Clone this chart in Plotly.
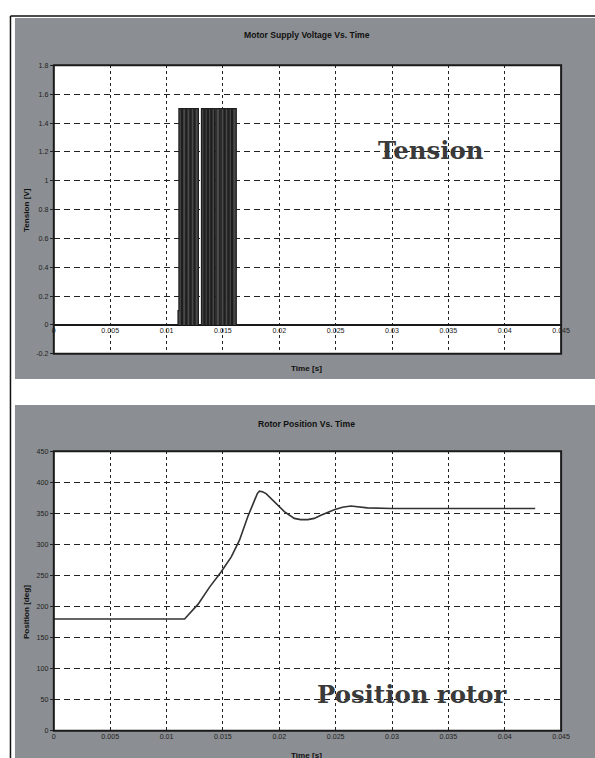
import plotly.graph_objects as go

# Layout is described in reference-picture pixels (595 x 758); the figure is
# rendered slightly larger (K) to compensate the capture's downscaling.
RW, RH = 595, 758
K = 604 / 595
W, H = 604, 770

# ---------------- data ----------------
# Motor supply voltage (PWM burst), time in ms, step (hv) levels in V
pwm_t_ms = [0, 11.02, 11.10, 11.32, 11.42, 11.70, 11.80, 12.08, 12.18, 12.44, 12.52,
            12.82, 13.10, 13.32, 13.42, 13.62, 13.72, 13.92, 14.02, 14.26, 14.38,
            14.72, 14.84, 15.10, 15.20, 15.44, 15.54, 15.76, 15.86, 16.18, 45.0]
pwm_v = [0, 0.1, 1.5, 0, 1.5, 0, 1.5, 0, 1.5, 0, 1.5,
         0, 1.5, 0, 1.5, 0, 1.5, 0, 1.5, 0, 1.5,
         0, 1.5, 0, 1.5, 0, 1.5, 0, 1.5, 0, 0]

# Rotor position
pos_t = [0, 0.0116, 0.0119, 0.0128, 0.0138, 0.01485, 0.01574, 0.01647, 0.01721,
         0.0178, 0.01805, 0.01824, 0.01850, 0.01883, 0.01957, 0.02045, 0.02133, 0.02190,
         0.02252, 0.02310, 0.02369, 0.02487, 0.02560, 0.02635, 0.02782, 0.0300, 0.0427]
pos_v = [180, 180, 186, 204, 231, 256, 280, 307, 345,
         372, 382, 386, 385, 382, 369, 353, 342, 340,
         340, 342, 347, 356, 360, 362, 359, 358, 358]

x_ticks = [0, 0.005, 0.01, 0.015, 0.02, 0.025, 0.03, 0.035, 0.04, 0.045]
x_labels = ["0", "0.005", "0.01", "0.015", "0.02", "0.025", "0.03", "0.035", "0.04", "0.045"]
v_ticks = [-0.2, 0, 0.2, 0.4, 0.6, 0.8, 1, 1.2, 1.4, 1.6, 1.8]
v_labels = ["-0.2", "0", "0.2", "0.4", "0.6", "0.8", "1", "1.2", "1.4", "1.6", "1.8"]
p_ticks = [0, 50, 100, 150, 200, 250, 300, 350, 400, 450]
p_labels = [str(v) for v in p_ticks]

# ---------------- helpers (reference px -> paper fraction) ----------------
def px(x):
    return x / RW

def py(y):
    return 1 - y / RH

def s(v):
    return v * K

GRAY = "#8b8e92"
INK = "#222222"
SMALL = dict(family="Liberation Sans, Arial", size=s(7), color=INK)

fig = go.Figure()

pwm_t = [t / 1000.0 for t in pwm_t_ms]
fig.add_trace(go.Scatter(x=pwm_t, y=pwm_v, mode="lines", line=dict(shape="hv", color="#1e1e1e", width=1.3),
                         fill="tozeroy", fillcolor="#4a4a4a", xaxis="x", yaxis="y", showlegend=False))
fig.add_trace(go.Scatter(x=pos_t, y=pos_v, mode="lines", line=dict(color="#333333", width=s(1.6)),
                         xaxis="x2", yaxis="y2", showlegend=False))

# plot-area pixel boxes (reference coordinates)
L, R = 52, 561
T1, B1 = 61, 348
T2, B2 = 445, 723

zero_top_px = B1 - (0 - (-0.2)) / 2.0 * (B1 - T1)

grid_common = dict(showgrid=True, gridcolor=INK, gridwidth=s(1.4))

fig.update_layout(
    width=W, height=H, margin=dict(l=0, r=0, t=0, b=0),
    paper_bgcolor="white", plot_bgcolor="white", showlegend=False,
    xaxis=dict(domain=[px(L), px(R)], range=[0, 0.045], anchor="free", position=py(zero_top_px),
               tickvals=x_ticks, ticktext=x_labels, tickfont=SMALL, ticks="", showline=False,
               zeroline=False, griddash="3px,3px", **grid_common),
    yaxis=dict(domain=[py(B1), py(T1)], range=[-0.2, 1.8], anchor="x",
               tickvals=v_ticks, ticktext=v_labels, tickfont=SMALL, ticks="outside", ticklen=3,
               tickcolor=INK, showline=False, zeroline=True, zerolinecolor="#111", zerolinewidth=2,
               griddash="6px,4px", **grid_common),
    xaxis2=dict(domain=[px(L), px(R)], range=[0, 0.045], anchor="y2",
                tickvals=x_ticks, ticktext=x_labels, tickfont=SMALL, ticks="", showline=False,
                zeroline=False, griddash="3px,3px", **grid_common),
    yaxis2=dict(domain=[py(B2), py(T2)], range=[0, 450], anchor="x2",
                tickvals=p_ticks, ticktext=p_labels, tickfont=SMALL, ticks="outside", ticklen=3,
                tickcolor=INK, showline=False, zeroline=False,
                griddash="6px,4px", **grid_common),
)

shapes = [
    dict(type="rect", xref="paper", yref="paper", x0=px(13), x1=1.0, y0=py(373), y1=py(14),
         fillcolor=GRAY, line=dict(width=0), layer="below"),
    dict(type="rect", xref="paper", yref="paper", x0=px(13), x1=1.0, y0=0.0, y1=py(399),
         fillcolor=GRAY, line=dict(width=0), layer="below"),
    dict(type="rect", xref="paper", yref="paper", x0=px(L), x1=px(R), y0=py(B1), y1=py(T1),
         fillcolor="white", line=dict(width=0), layer="below"),
    dict(type="rect", xref="paper", yref="paper", x0=px(L), x1=px(R), y0=py(B2), y1=py(T2),
         fillcolor="white", line=dict(width=0), layer="below"),
    dict(type="rect", xref="x domain", yref="y domain", x0=0, x1=1, y0=0, y1=1,
         line=dict(color="#1a1a1a", width=2), layer="above"),
    dict(type="rect", xref="x2 domain", yref="y2 domain", x0=0, x1=1, y0=0, y1=1,
         line=dict(color="#1a1a1a", width=2), layer="above"),
    dict(type="line", xref="paper", yref="paper", x0=px(8.5), x1=px(8.5), y0=0.0, y1=py(12),
         line=dict(color="#111", width=1.5), layer="above"),
    dict(type="line", xref="paper", yref="paper", x0=px(8.5), x1=1.0, y0=py(12), y1=py(12),
         line=dict(color="#111", width=1.5), layer="above"),
]
fig.update_layout(shapes=shapes)

TITLE = dict(family="Liberation Sans, Arial", size=s(8.5), color="#111")
LABEL = dict(family="Liberation Sans, Arial", size=s(8), color="#111")
ann = []
def add_text(text, x, y, font, angle=0):
    ann.append(dict(text=text, x=px(x), y=py(y), xref="paper", yref="paper", showarrow=False,
                    font=font, textangle=angle, xanchor="center", yanchor="middle"))

add_text("<b>Motor Supply Voltage Vs. Time</b>", 306, 31, TITLE)
add_text("<b>Rotor Position Vs. Time</b>", 306, 418, TITLE)
add_text("<b>Time [s]</b>", 306, 363, LABEL)
add_text("<b>Time [s]</b>", 306, 748, LABEL)
add_text("<b>Tension [V]</b>", 24, 205, LABEL, -90)
add_text("<b>Position [deg]</b>", 24, 605, LABEL, -90)

BIG = dict(family="DejaVu Serif", size=s(24), color="#3a3a3a")
add_text("<b>Tension</b>", 430, 146, BIG)
add_text("<b>Position rotor</b>", 411, 687, BIG)

fig.update_layout(annotations=ann)

page_css = ("document.documentElement.style.margin='0px';"
            "document.documentElement.style.overflow='hidden';"
            "document.body.style.margin='0px';"
            "document.body.style.overflow='hidden';")
fig.write_html("out.html", post_script=page_css, config={"displayModeBar": False})
